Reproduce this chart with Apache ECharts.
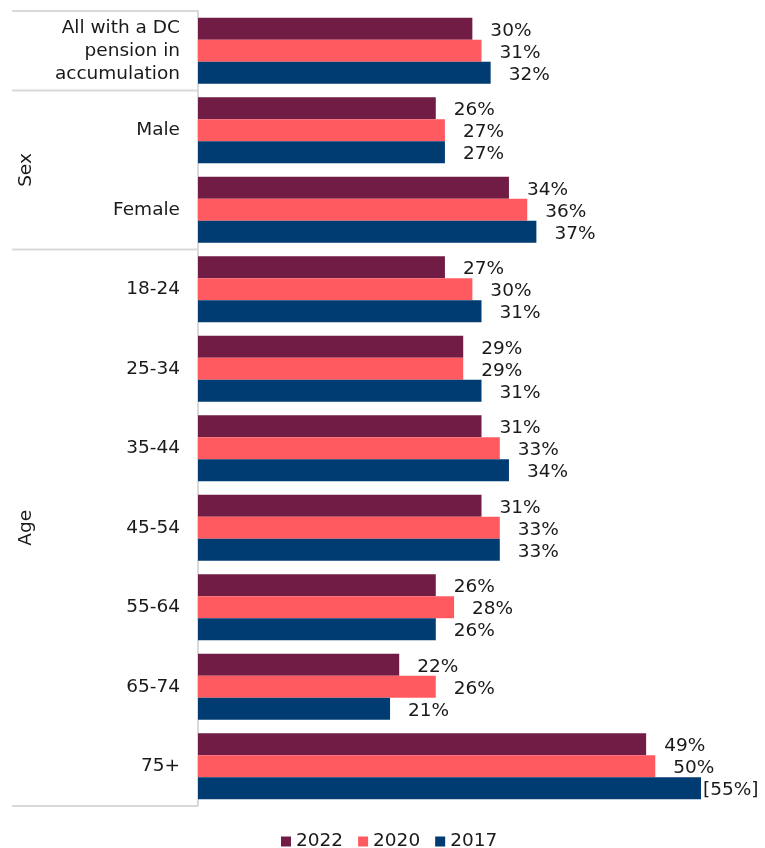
<!DOCTYPE html>
<html>
<head>
<meta charset="utf-8">
<script src="https://cdn.jsdelivr.net/npm/echarts@6/dist/echarts.min.js"></script>
<style>
html,body{margin:0;padding:0;background:#fff;}
#chart{width:765px;height:848px;}
</style>
</head>
<body>
<div id="chart"></div>
<script>
const categories = ['All with a DC\npension in\naccumulation', 'Male', 'Female', '18-24', '25-34', '35-44', '45-54', '55-64', '65-74', '75+'];
const seriesNames = ['2022', '2020', '2017'];
const values2022 = [30, 26, 34, 27, 29, 31, 31, 26, 22, 49];
const values2020 = [31, 27, 36, 30, 29, 33, 33, 28, 26, 50];
const values2017 = [32, 27, 37, 31, 31, 34, 33, 26, 21, 55];
const bracketed2017 = [false, false, false, false, false, false, false, false, false, true];
const groupNames = ['', 'Sex', 'Age'];
const groupStarts = [0, 1, 3];
const groupEnds = [0, 2, 9];

const FONT = 'DejaVu Sans';
const FS = 18.5;
const colors = ['#701C45', '#FF5A5F', '#003B71'];

function makeData(vals, brackets) {
  return vals.map((v, i) => {
    const b = brackets && brackets[i];
    return {
      value: v,
      label: {
        formatter: b ? '[' + v + '%]' : v + '%',
        distance: b ? 2 : 18
      }
    };
  });
}

const chart = echarts.init(document.getElementById('chart'));
const GRID = {left: 198, top: 11, width: 503, height: 795};

const labelStyle = {
  show: true,
  position: 'right',
  fontFamily: FONT,
  fontSize: FS,
  color: '#1a1a1a',
  offset: [0, 2]
};

const allVals = [values2022, values2020, values2017];
const allBr = [null, null, bracketed2017];

const option = {
  animation: false,
  textStyle: {fontFamily: FONT},
  grid: {left: GRID.left, top: GRID.top, width: GRID.width, height: GRID.height, containLabel: false},
  legend: {
    data: seriesNames,
    left: 281,
    top: 832,
    padding: 0,
    itemWidth: 10,
    itemHeight: 10,
    itemGap: 15,
    icon: 'rect',
    textStyle: {fontFamily: FONT, fontSize: FS, color: '#1a1a1a'}
  },
  xAxis: {
    type: 'value', min: 0, max: 55, show: false
  },
  yAxis: {
    type: 'category',
    data: categories,
    inverse: true,
    axisLine: {show: true, lineStyle: {color: '#d9d9d9', width: 2}},
    axisTick: {show: false},
    splitLine: {show: false},
    axisLabel: {
      fontFamily: FONT, fontSize: FS, color: '#1a1a1a', margin: 18,
      lineHeight: 23, align: 'right', padding: [3, 0, 0, 0]
    }
  },
  series: seriesNames.map((n, k) => ({
    name: n,
    type: 'bar',
    barWidth: 22,
    barGap: '0%',
    itemStyle: {color: colors[k]},
    label: labelStyle,
    data: makeData(allVals[k], allBr[k])
  }))
};
chart.setOption(option);

// group separators and group titles, positioned from the category axis
const c0 = chart.convertToPixel({yAxisIndex: 0}, 0);
const c1 = chart.convertToPixel({yAxisIndex: 0}, 1);
const half = Math.abs(c1 - c0) / 2;
const graphics = [];
const lineStyle = {stroke: '#d9d9d9', lineWidth: 2};
const xStart = 12, xEnd = GRID.left;
const boundaries = groupStarts.map(s => chart.convertToPixel({yAxisIndex: 0}, s) - half);
boundaries.push(chart.convertToPixel({yAxisIndex: 0}, categories.length - 1) + half);
boundaries.forEach(y => {
  graphics.push({type: 'line', shape: {x1: xStart, y1: y, x2: xEnd, y2: y}, style: lineStyle, silent: true});
});
groupNames.forEach((g, i) => {
  if (!g) return;
  const yA = chart.convertToPixel({yAxisIndex: 0}, groupStarts[i]) - half;
  const yB = chart.convertToPixel({yAxisIndex: 0}, groupEnds[i]) + half;
  graphics.push({
    type: 'text',
    x: 26, y: (yA + yB) / 2,
    rotation: Math.PI / 2,
    style: {text: g, fontFamily: FONT, fontSize: FS, fill: '#1a1a1a', align: 'center', verticalAlign: 'middle'},
    silent: true
  });
});
chart.setOption({graphic: graphics});
</script>
</body>
</html>
